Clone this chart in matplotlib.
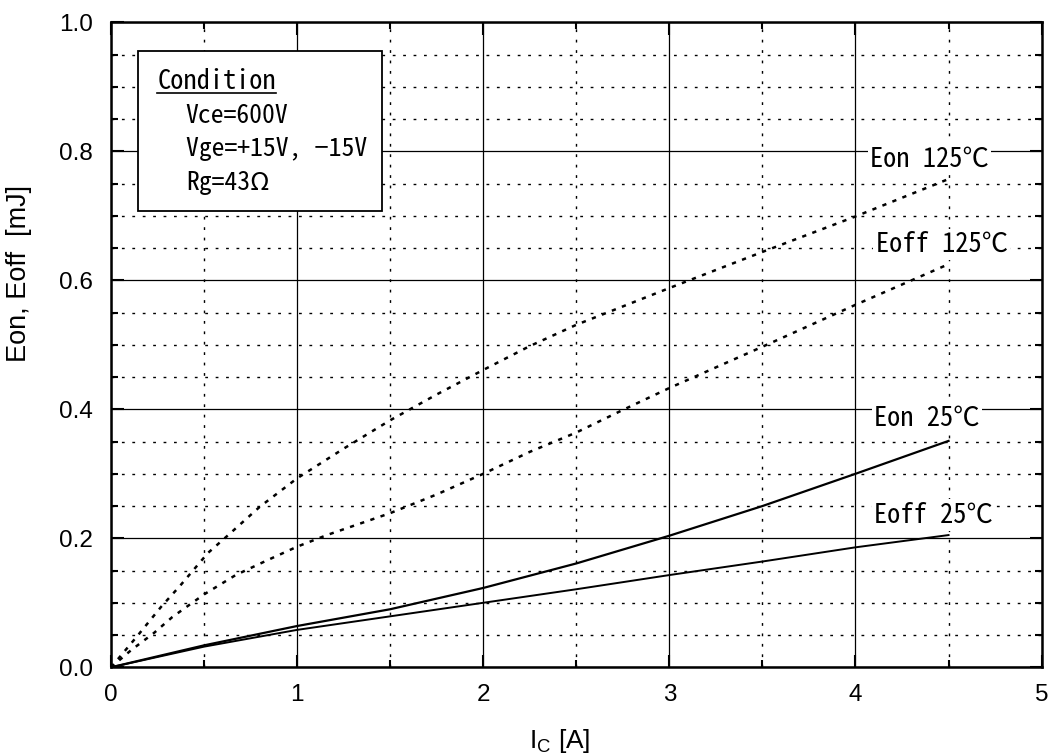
import matplotlib
matplotlib.use("Agg")
import matplotlib.pyplot as plt
from matplotlib.patches import Rectangle
from matplotlib.ticker import MultipleLocator

plt.rcParams["font.family"] = ["Liberation Sans", "DejaVu Sans"]
plt.rcParams["mathtext.fontset"] = "custom"
plt.rcParams["mathtext.rm"] = "Liberation Sans"

# values
ic_on125 = [0, 0.05, 0.14, 0.27, 0.37, 0.52, 0.63, 0.8, 1.0, 1.25, 1.5, 1.75, 2.0, 2.25, 2.5, 3.0, 3.5, 4.0, 4.5]
eon_125 = [0, 0.017, 0.048, 0.094, 0.126, 0.177, 0.205, 0.249, 0.293, 0.339, 0.383, 0.423, 0.461, 0.498, 0.531, 0.588, 0.644, 0.699, 0.757]

ic_off125 = [0, 0.11, 0.23, 0.33, 0.5, 0.67, 0.84, 1.0, 1.16, 1.5, 1.75, 2.0, 2.25, 2.5, 2.75, 3.0, 3.5, 4.0, 4.5]
eoff_125 = [0, 0.027, 0.053, 0.078, 0.113, 0.143, 0.166, 0.187, 0.205, 0.239, 0.268, 0.300, 0.334, 0.364, 0.399, 0.433, 0.497, 0.562, 0.625]

ic_25 = [0, 0.5, 1.0, 1.5, 2.0, 2.5, 3.0, 3.5, 4.0, 4.5]
eon_25 = [0, 0.034, 0.064, 0.090, 0.123, 0.161, 0.204, 0.250, 0.300, 0.351]
eoff_25 = [0, 0.032, 0.058, 0.079, 0.100, 0.121, 0.143, 0.164, 0.186, 0.205]

curve_labels = ["Eon 125℃", "Eoff 125℃", "Eon 25℃", "Eoff 25℃"]
label_x = [4.08, 4.108, 4.099, 4.099]
label_y = [0.788, 0.655, 0.386, 0.236]

cond_title = "Condition"
cond_lines = ["Vce=600V", "Vge=+15V, \u221215V", "Rg=43Ω"]

mono = ["Noto Sans Mono CJK JP", "DejaVu Sans Mono", "Noto Sans CJK JP"]

fig = plt.figure(figsize=(10.48, 7.54), dpi=100)
ax = fig.add_axes([0.1059, 0.115, 0.888, 0.8554])

ax.set_xlim(0, 5)
ax.set_ylim(0, 1.0)
ax.xaxis.set_major_locator(MultipleLocator(1))
ax.xaxis.set_minor_locator(MultipleLocator(0.5))
ax.yaxis.set_major_locator(MultipleLocator(0.2))
ax.yaxis.set_minor_locator(MultipleLocator(0.05))
ax.set_yticks([0, 0.2, 0.4, 0.6, 0.8, 1.0], ["0.0", "0.2", "0.4", "0.6", "0.8", "1.0"])

ax.grid(which="major", color="k", lw=0.9, ls="-")
ax.grid(which="minor", color="k", lw=1.0, ls=(0, (2, 5.5)))
ax.set_axisbelow(True)

ax.tick_params(which="both", direction="in", top=True, right=True, width=1.5)
ax.tick_params(which="major", length=9, labelsize=17.5)
ax.tick_params(axis="y", which="major", pad=13)
ax.tick_params(axis="x", which="major", pad=12)
ax.tick_params(which="minor", length=5)
for s in ax.spines.values():
    s.set_linewidth(1.8)

ax.plot(ic_on125, eon_125, color="k", lw=1.8, ls=(0, (1.7, 2.6)), zorder=3)
ax.plot(ic_off125, eoff_125, color="k", lw=1.8, ls=(0, (1.7, 2.6)), zorder=3)
ax.plot(ic_25, eon_25, color="k", lw=1.6, zorder=3)
ax.plot(ic_25, eoff_25, color="k", lw=1.4, zorder=3)

for txt, tx, ty in zip(curve_labels, label_x, label_y):
    ax.text(tx, ty, txt, family=mono, fontsize=19, va="center", ha="left", zorder=5,
            bbox=dict(facecolor="white", edgecolor="none", pad=1.5))

# condition box
ax.add_patch(Rectangle((0.146, 0.7075), 1.311, 0.248, facecolor="white",
                       edgecolor="k", lw=1.3, zorder=4))
t_cond = ax.text(0.248, 0.9075, cond_title, family=mono, fontsize=19, va="center", zorder=5)
for i, line in enumerate(cond_lines):
    ax.text(0.402, 0.855 - i * 0.0517, line, family=mono, fontsize=18.5, va="center", zorder=5)

fig.text(0.018, 0.637, "Eon, Eoff  [mJ]", rotation=90, fontsize=19.5, ha="center", va="center")
fig.text(0.534, 0.008, "I$_{\\mathrm{C}}$ [A]", fontsize=19, ha="center", va="baseline")

fig.canvas.draw()
bb = t_cond.get_window_extent().transformed(ax.transData.inverted())
ax.plot([bb.x0, bb.x1], [bb.y0 + 0.004, bb.y0 + 0.004], color="k", lw=1.2, zorder=5)

fig.savefig("out.png", dpi=100)
